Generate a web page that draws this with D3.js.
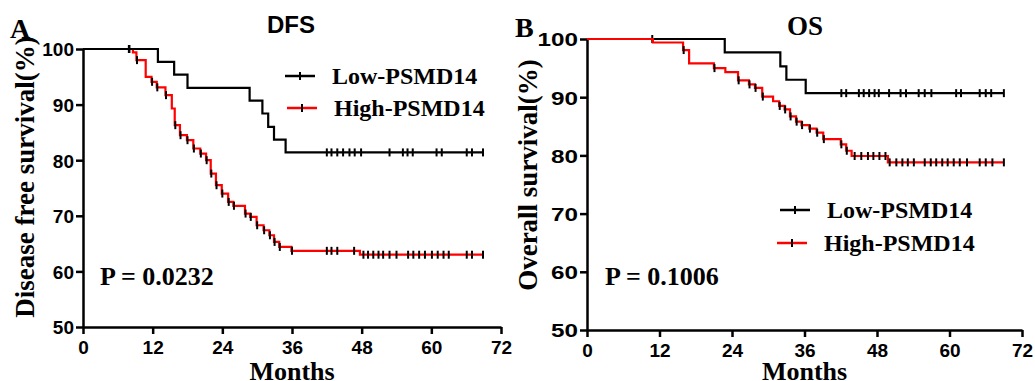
<!DOCTYPE html>
<html>
<head>
<meta charset="utf-8">
<script src="https://cdn.jsdelivr.net/npm/d3@7"></script>
<style>
  body { margin: 0; background: #fff; }
  svg { display: block; }
</style>
</head>
<body>
<div id="chart"></div>
<script>
// ---- data (months, survival %) ----
const xTicks = [0, 12, 24, 36, 48, 60, 72];
const yTicks = [50, 60, 70, 80, 90, 100];
const groupNames = ["Low-PSMD14", "High-PSMD14"];

// DFS panel
const dfsLowTimes = [12.9, 15.7, 18.0, 28.7, 30.9, 31.9, 32.9, 34.9];
const dfsLowSurv  = [97.7, 95.4, 93.0, 90.7, 88.4, 86.0, 83.7, 81.4];
const dfsLowCensor = [7.9, 42.0, 42.8, 43.8, 44.8, 45.9, 46.8, 47.9, 52.8, 55.1, 55.9, 56.8, 60.9, 61.8, 66.1, 67.0, 68.9];

const dfsHighTimes = [8.6, 9.2, 10.8, 11.8, 12.7, 14.2, 15.3, 15.8, 16.7, 17.9, 19.0, 20.2, 21.2, 22.0, 22.9, 23.9, 25.0, 25.9, 27.9, 28.8, 29.9, 31.1, 32.1, 32.9, 33.8, 35.9, 47.7];
const dfsHighSurv  = [99.4, 98.0, 95.0, 94.1, 93.1, 91.7, 89.3, 86.3, 84.5, 83.6, 82.1, 81.2, 80.0, 77.6, 75.5, 74.0, 72.5, 71.8, 70.4, 69.8, 68.3, 67.4, 66.5, 65.3, 64.4, 63.7, 63.0];
const dfsHighCensor = [8.0, 9.3, 11.9, 12.8, 14.3, 15.9, 16.8, 18.0, 19.1, 20.3, 21.3, 22.1, 23.0, 24.0, 25.1, 26.0, 28.0, 28.9, 30.0, 31.2, 32.2, 33.0, 33.9, 36.0,
  42.0, 42.8, 43.8, 46.7, 48.3, 49.1, 50.0, 50.9, 51.7, 52.8, 54.0, 56.0, 56.9, 57.9, 58.9, 60.1, 61.1, 62.1, 63.0, 66.1, 67.0, 68.9];

// OS panel
const osLowTimes = [22.8, 32.0, 33.0, 36.2];
const osLowSurv  = [97.7, 95.3, 93.0, 90.7];
const osLowCensor = [10.8, 42.1, 42.9, 45.0, 45.8, 46.7, 47.6, 48.3, 50.0, 51.9, 52.8, 54.9, 55.9, 57.0, 61.1, 61.9, 65.0, 66.0, 66.9, 69.0];

const osHighTimes = [10.9, 15.9, 16.9, 21.0, 22.9, 25.0, 26.8, 27.8, 29.0, 30.8, 31.8, 32.7, 33.6, 34.6, 35.5, 36.8, 38.0, 39.1, 42.0, 42.9, 43.8, 49.8];
const osHighSurv  = [99.4, 98.1, 95.8, 95.0, 94.3, 92.9, 92.2, 91.6, 90.1, 89.3, 88.5, 87.9, 86.7, 85.8, 85.2, 84.6, 83.9, 82.8, 81.9, 80.8, 79.9, 78.8];
const osHighCensor = [16.0, 21.1, 25.1, 26.9, 27.9, 29.1, 31.9, 32.8, 33.7, 34.7, 35.6, 36.9, 38.1, 39.2, 42.1, 43.0,
  44.3, 45.4, 46.5, 47.4, 48.4, 49.4, 50.1, 51.2, 52.2, 53.1, 54.1, 55.9, 56.9, 57.8, 58.8, 59.7, 60.7, 61.7, 62.9, 65.0, 66.0, 67.1, 69.0];

const serif = "'Liberation Serif', 'Times New Roman', serif";
const sans = "'Liberation Sans', Arial, sans-serif";

const svg = d3.select("#chart").append("svg")
    .attr("width", 1035)
    .attr("height", 381);

// survival level at time t for a step curve
function survAt(times, surv, t) {
  let s = 100;
  for (let i = 0; i < times.length; i++) {
    if (times[i] <= t) s = surv[i];
  }
  return s;
}

function stepPoints(times, surv, end) {
  const pts = [[0, 100]];
  let prev = 100;
  times.forEach(function(t, i) {
    pts.push([t, prev]);
    pts.push([t, surv[i]]);
    prev = surv[i];
  });
  pts.push([end, prev]);
  return pts;
}

function drawPanel(p) {
  const x = d3.scaleLinear().domain([0, 72]).range([p.left, p.right]);
  const y = d3.scaleLinear().domain([50, 100]).range([p.bottom, p.top]);

  // Axes
  const xAxis = svg.append("g")
      .attr("transform", "translate(0," + p.bottom + ")")
      .call(d3.axisBottom(x).tickValues(xTicks).tickSize(7).tickSizeOuter(0).tickPadding(4));
  const yAxis = svg.append("g")
      .attr("transform", "translate(" + p.left + ",0)")
      .call(d3.axisLeft(y).tickValues(yTicks).tickSize(7).tickSizeOuter(0).tickPadding(2));

  [xAxis, yAxis].forEach(function(ax) {
    ax.select(".domain").attr("stroke", "#000").attr("stroke-width", 2.5);
    ax.selectAll(".tick line").attr("stroke", "#000").attr("stroke-width", 2.5);
    ax.selectAll(".tick text")
      .attr("fill", "#000")
      .style("font-family", sans)
      .style("font-weight", "bold")
      .style("font-size", "19px");
  });
  xAxis.selectAll(".tick text").attr("dy", "0.85em");
  yAxis.selectAll(".tick text").attr("dy", "0.36em");
  // the OS panel's y labels are drawn wider in the original
  if (p.yTickWidth) {
    yAxis.selectAll(".tick text")
      .attr("textLength", function(d) { return String(d).length * p.yTickWidth; })
      .attr("lengthAdjust", "spacingAndGlyphs");
  }

  const line = d3.line()
      .x(function(d) { return x(d[0]); })
      .y(function(d) { return y(d[1]); });

  // Curves
  p.curves.forEach(function(c) {
    const end = d3.max(c.censor);
    svg.append("path")
        .datum(stepPoints(c.times, c.surv, end))
        .attr("fill", "none")
        .attr("stroke", c.color)
        .attr("stroke-width", 2.2)
        .attr("d", line);

    svg.append("g").selectAll("line")
        .data(c.censor)
        .enter().append("line")
        .attr("x1", function(d) { return x(d); })
        .attr("x2", function(d) { return x(d); })
        .attr("y1", function(d) { return y(survAt(c.times, c.surv, d)) - 4; })
        .attr("y2", function(d) { return y(survAt(c.times, c.surv, d)) + 4; })
        .attr("stroke", "#000")
        .attr("stroke-width", 2);
  });

  // Legend
  const legend = svg.append("g").selectAll("g")
      .data(p.legend)
      .enter().append("g")
      .attr("transform", function(d) { return "translate(" + d.x + "," + d.y + ")"; });
  legend.append("line")
      .attr("x1", 0).attr("x2", 30)
      .attr("stroke", function(d) { return d.color; })
      .attr("stroke-width", 2.5);
  legend.append("line")
      .attr("x1", 15).attr("x2", 15).attr("y1", -4).attr("y2", 4)
      .attr("stroke", "#000")
      .attr("stroke-width", 2);
  legend.append("text")
      .attr("x", 47)
      .attr("y", 8)
      .style("font-family", serif)
      .style("font-weight", "bold")
      .style("font-size", "24px")
      .text(function(d) { return d.name; });

  // Titles and labels
  svg.append("text")
      .attr("x", p.letterX).attr("y", p.letterY)
      .style("font-family", serif).style("font-weight", "bold").style("font-size", "28px")
      .text(p.letter);

  svg.append("text")
      .attr("x", p.titleX).attr("y", p.titleY)
      .attr("text-anchor", "middle")
      .style("font-family", p.titleFont).style("font-weight", "bold").style("font-size", p.titleSize)
      .text(p.title);

  svg.append("text")
      .attr("transform", "translate(" + p.yLabelX + "," + p.yLabelY + ") rotate(-90)")
      .attr("text-anchor", "middle")
      .style("font-family", serif).style("font-weight", "bold").style("font-size", "27px")
      .text(p.yLabel);

  svg.append("text")
      .attr("x", (p.left + p.right) / 2).attr("y", 380)
      .attr("text-anchor", "middle")
      .style("font-family", serif).style("font-weight", "bold").style("font-size", "26px")
      .text("Months");

  svg.append("text")
      .attr("x", p.pX).attr("y", p.pY)
      .style("font-family", serif).style("font-weight", "bold").style("font-size", "26px")
      .text(p.pText);
}

drawPanel({
  left: 83, right: 501, top: 49, bottom: 327,
  letter: "A", letterX: 10, letterY: 38,
  title: "DFS", titleX: 291, titleY: 33, titleFont: sans, titleSize: "24px",
  yLabel: "Disease free survival(%)", yLabelX: 34, yLabelY: 177,
  pText: "P = 0.0232", pX: 100, pY: 285,
  curves: [
    {times: dfsHighTimes, surv: dfsHighSurv, censor: dfsHighCensor, color: "#ff0000"},
    {times: dfsLowTimes, surv: dfsLowSurv, censor: dfsLowCensor, color: "#000"}
  ],
  legend: [
    {name: groupNames[0], color: "#000", x: 285, y: 76},
    {name: groupNames[1], color: "#ff0000", x: 287, y: 108}
  ]
});

drawPanel({
  left: 587, right: 1022, top: 39, bottom: 330,
  letter: "B", letterX: 515, letterY: 37,
  title: "OS", titleX: 805, titleY: 35, titleFont: serif, titleSize: "27px",
  yLabel: "Overall survival(%)", yLabelX: 537, yLabelY: 175,
  yTickWidth: 13.5,
  pText: "P = 0.1006", pX: 605, pY: 285,
  curves: [
    {times: osLowTimes, surv: osLowSurv, censor: osLowCensor, color: "#000"},
    {times: osHighTimes, surv: osHighSurv, censor: osHighCensor, color: "#ff0000"}
  ],
  legend: [
    {name: groupNames[0], color: "#000", x: 780, y: 210},
    {name: groupNames[1], color: "#ff0000", x: 777, y: 243}
  ]
});
</script>
</body>
</html>
